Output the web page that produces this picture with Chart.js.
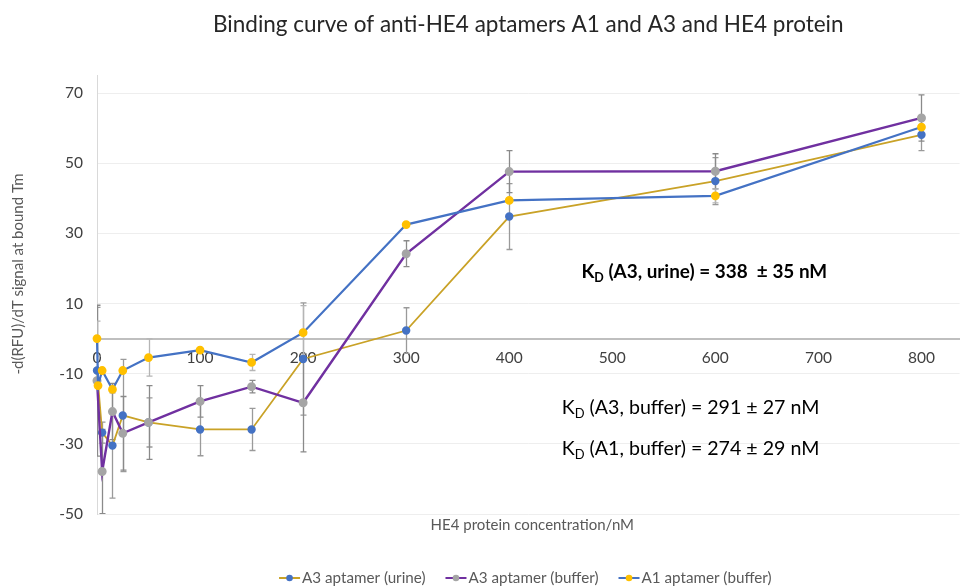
<!DOCTYPE html>
<html>
<head>
<meta charset="utf-8">
<title>HE4 binding curve</title>
<script src="https://cdn.jsdelivr.net/npm/chart.js@4.4.0/dist/chart.umd.min.js"></script>
<style>
  html, body { margin: 0; padding: 0; background: #fff; }
  #wrap { width: 966px; height: 587px; }
</style>
</head>
<body>
<div id="wrap"><canvas id="bindingChart" width="966" height="587"></canvas></div>
<script>
const FONT = "Lato, 'Open Sans', sans-serif";

// HE4 protein concentrations (nM)
const concA3 = [0, 5, 15, 25, 50, 100, 150, 200, 300, 400, 600, 800];
const concA1 = [0, 1, 5, 15, 25, 50, 100, 150, 200, 300, 400, 600, 800];

// -d(RFU)/dT at bound Tm, with standard deviations
const a3Urine     = [-9.1, -26.8, -30.5, -21.9, -23.9, -25.9, -25.9, -5.8, 2.3, 34.8, 44.9, 58.1];
const a3UrineErr  = [18, 3, 15, 16, 7, 7.5, 6, 16, 6.5, 9.4, 6.7, 4.5];
const a3Buffer    = [-12, -37.9, -20.8, -27, -23.9, -17.9, -13.7, -18.3, 24.2, 47.6, 47.7, 62.9];
const a3BufferErr = [21.5, 12, 8, 10.5, 10.5, 4.5, 1.8, 14, 3.7, 6, 5, 6.6];
const a1Buffer    = [0, -13.4, -9.1, -14.5, -9.1, -5.4, -3.3, -6.8, 1.7, 32.5, 39.4, 40.7, 60.3];
const a1BufferErr = [5, 0, 0, 0, 0, 5.3, 0, 2.3, 7.7, 0, 0, 2, 0];

const xTickValues = [0, 100, 200, 300, 400, 500, 600, 700, 800];
const yTickValues = [-50, -30, -10, 10, 30, 50, 70];
const seriesNames = ["A3 aptamer (urine)", "A3 aptamer (buffer)", "A1 aptamer (buffer)"];

// dissociation constants written on the plot (K + subscript D + rest)
const kdTexts = [
  " (A3, urine) = 338  \u00b1 35 nM",
  " (A3, buffer) = 291 \u00b1 27 nM",
  " (A1, buffer) = 274 \u00b1 29 nM"
];

const toPoints = (xs, ys) => xs.map((x, i) => ({ x, y: ys[i] }));

// vertical error bars with caps, drawn under the lines
const errorBars = {
  id: "errorBars",
  beforeDatasetsDraw(chart) {
    const { ctx, chartArea, scales: { x, y } } = chart;
    ctx.save();
    ctx.beginPath();
    ctx.rect(chartArea.left, chartArea.top, chartArea.width, chartArea.height);
    ctx.clip();
    chart.data.datasets.forEach(ds => {
      if (!ds.errors) return;
      ctx.strokeStyle = ds.errorColor;
      ctx.lineWidth = 1.3;
      ds.data.forEach((p, i) => {
        const e = ds.errors[i];
        if (!e) return;
        const px = Math.round(x.getPixelForValue(p.x)) + 0.5;
        const top = y.getPixelForValue(p.y + e);
        const bot = y.getPixelForValue(p.y - e);
        ctx.beginPath();
        ctx.moveTo(px, top); ctx.lineTo(px, bot);
        ctx.moveTo(px - 3, top); ctx.lineTo(px + 3, top);
        ctx.moveTo(px - 3, bot); ctx.lineTo(px + 3, bot);
        ctx.stroke();
      });
    });
    ctx.restore();
  }
};

// axis titles, K_D notes and the line+marker legend
const decorations = {
  id: "decorations",
  afterDraw(chart, args, opts) {
    const { ctx, chartArea, scales: { x, y } } = chart;
    ctx.save();
    ctx.fillStyle = "#595959";
    ctx.textBaseline = "middle";

    // y title
    ctx.font = `15px ${FONT}`;
    ctx.save();
    ctx.translate(opts.yTitleX, opts.yTitleY);
    ctx.rotate(-Math.PI / 2);
    ctx.textAlign = "center";
    ctx.fillText("-d(RFU)/dT signal at bound Tm", 0, 0);
    ctx.restore();

    // x title
    ctx.font = `15px ${FONT}`;
    ctx.textAlign = "center";
    ctx.fillText("HE4 protein concentration/nM", (chartArea.left + chartArea.right) / 2 + 4, chartArea.bottom + 11);

    // K_D notes
    ctx.textAlign = "left";
    ctx.fillStyle = "#000";
    kdTexts.forEach((txt, i) => {
      const a = opts.kdAnchors[i];
      const weight = a.bold ? "bold " : "";
      const size = a.bold ? 18.9 : 19.6;
      let px = x.getPixelForValue(a.x);
      const py = y.getPixelForValue(a.y);
      ctx.font = `${weight}${size}px ${FONT}`;
      ctx.fillText("K", px, py);
      px += ctx.measureText("K").width;
      ctx.font = `${weight}${size * 0.66}px ${FONT}`;
      ctx.fillText("D", px, py + 6);
      px += ctx.measureText("D").width;
      ctx.font = `${weight}${size}px ${FONT}`;
      ctx.fillText(txt, px, py);
    });

    // legend
    ctx.font = `15.2px ${FONT}`;
    const gap = 20, lineLen = 21, textOff = 23;
    const items = chart.data.datasets.map(ds => ({ ds, w: textOff + ctx.measureText(ds.label).width }));
    const total = items.reduce((s, it) => s + it.w, 0) + gap * (items.length - 1);
    let lx = (chartArea.left + chartArea.right) / 2 - 3 - total / 2;
    const ly = opts.legendY;
    items.forEach(({ ds, w }) => {
      ctx.strokeStyle = ds.borderColor;
      ctx.lineWidth = 2;
      ctx.beginPath();
      ctx.moveTo(lx, ly); ctx.lineTo(lx + lineLen, ly);
      ctx.stroke();
      ctx.fillStyle = ds.pointBackgroundColor;
      ctx.beginPath();
      ctx.arc(lx + lineLen / 2, ly, 3.3, 0, Math.PI * 2);
      ctx.fill();
      ctx.fillStyle = "#595959";
      ctx.fillText(ds.label, lx + textOff, ly);
      lx += w + gap;
    });
    ctx.restore();
  }
};

const ctx = document.getElementById("bindingChart").getContext("2d");
new Chart(ctx, {
  type: "scatter",
  data: {
    datasets: [
      {
        label: seriesNames[0],
        data: toPoints(concA3, a3Urine),
        errors: a3UrineErr,
        errorColor: "#9a9a9a",
        showLine: true,
        borderColor: "#c9a227",
        borderWidth: 1.8,
        pointBackgroundColor: "#4472c4",
        pointBorderColor: "#4472c4",
        pointRadius: 3.3,
        order: 3,
        clip: 8
      },
      {
        label: seriesNames[1],
        data: toPoints(concA3, a3Buffer),
        errors: a3BufferErr,
        errorColor: "#8a8a8a",
        showLine: true,
        borderColor: "#7030a0",
        borderWidth: 2.4,
        pointBackgroundColor: "#a5a5a5",
        pointBorderColor: "#a5a5a5",
        pointRadius: 3.3,
        order: 2,
        clip: 8
      },
      {
        label: seriesNames[2],
        data: toPoints(concA1, a1Buffer),
        errors: a1BufferErr,
        errorColor: "#b5b5b5",
        showLine: true,
        borderColor: "#4472c4",
        borderWidth: 2.2,
        pointBackgroundColor: "#ffc000",
        pointBorderColor: "#ffc000",
        pointRadius: 3.3,
        order: 1,
        clip: 8
      }
    ]
  },
  options: {
    responsive: false,
    animation: false,
    events: [],
    layout: { padding: { left: 0, right: 1, top: 0, bottom: 73 } },
    plugins: {
      legend: { display: false },
      tooltip: { enabled: false },
      title: {
        display: true,
        fullSize: false,
        text: "Binding curve of anti-HE4 aptamers A1 and A3 and HE4 protein",
        color: "#262626",
        font: { family: FONT, size: 22.5, weight: "normal" },
        padding: { top: 11, bottom: 37.5 }
      },
      decorations: {
        yTitleX: 18,
        yTitleY: 274,
        legendY: 578,
        kdAnchors: [
          { x: 470, y: 19, bold: true },
          { x: 451, y: -19.8, bold: false },
          { x: 451, y: -31.5, bold: false }
        ]
      }
    },
    scales: {
      x: {
        type: "linear",
        min: 0,
        max: 837,
        position: { y: 0 },
        afterBuildTicks: s => { s.ticks = xTickValues.map(v => ({ value: v })); },
        ticks: {
          color: "#404040",
          font: { family: FONT, size: 15.5 },
          padding: 10,
          maxRotation: 0,
          autoSkip: false
        },
        grid: { color: "rgba(0,0,0,0)", drawTicks: false },
        border: { display: true, color: "#bfbfbf", width: 2 }
      },
      y: {
        type: "linear",
        min: -50,
        max: 75,
        position: "left",
        afterBuildTicks: s => { s.ticks = yTickValues.map(v => ({ value: v })); },
        afterFit: s => { s.width = 97; },
        ticks: {
          color: "#404040",
          font: { family: FONT, size: 15.5 },
          padding: 14
        },
        grid: { color: "#eeeeee", lineWidth: 1, drawTicks: false },
        border: { display: true, color: "#d9d9d9", width: 1 }
      }
    }
  },
  plugins: [errorBars, decorations]
});
</script>
</body>
</html>
